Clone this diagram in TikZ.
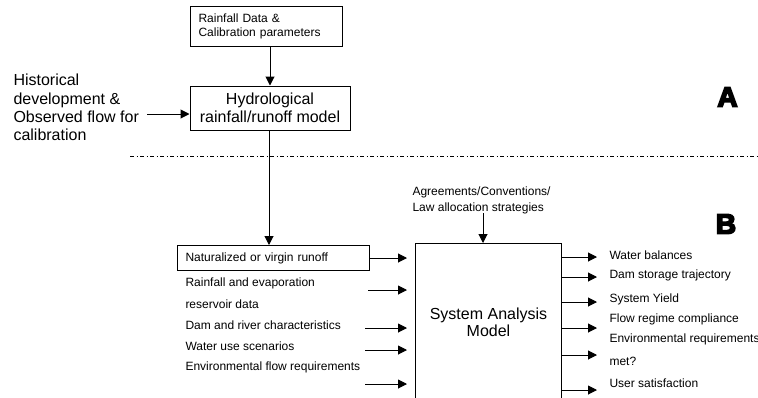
\documentclass[tikz,border=0pt]{standalone}
\usepackage{fontspec}
\setmainfont{Liberation Sans}
\newfontfamily\heavyfont{Liberation Sans}[BoldFeatures={FakeBold=6}]
\usepackage{tikz}
\usetikzlibrary{arrows.meta}

\begin{document}
\begin{tikzpicture}[x=1pt,y=-1pt,line width=1pt,
  >={Triangle[length=9pt,width=9pt]},
  smalltxt/.style={font=\fontsize{12}{14}\selectfont},
  bigtxt/.style={font=\fontsize{16}{17.5}\selectfont},
  box/.style={draw,inner sep=0pt},
  item/.style={smalltxt,anchor=west,inner sep=0pt},
  bigletter/.style={font=\heavyfont\bfseries\fontsize{28}{28}\selectfont,inner sep=0pt}]
  \useasboundingbox (0,0) rectangle (758,397);
  \clip (0,0) rectangle (758,397);

  \node[box,smalltxt,anchor=north west,text width=136pt,inner xsep=8pt,minimum height=40pt,align=left] (rain) at (190,6) {Rainfall Data \&\\Calibration parameters};
  \node[box,bigtxt,minimum width=160pt,minimum height=44pt,align=center] (hydro) at (270,108) {Hydrological\\rainfall/runoff model};
  \node[bigtxt,anchor=west,inner sep=0pt,align=left,font=\fontsize{16}{18.3}\selectfont] (hist) at (13,107.5) {Historical\\development \&\\Observed flow for\\calibration};
  \coordinate (histout) at (147,114);
  \draw[->] (hydro.north |- rain.south) -- (hydro.north);
  \draw[->] (histout) -- (histout -| hydro.west);

  \coordinate (sepL) at (130,156);
  \coordinate (sepR) at (758,156);
  \draw[line width=0.8pt,dash pattern=on 4pt off 2.5pt on 1pt off 2.5pt] (sepL) -- (sepR);
  \node[bigletter] (secA) at (727.5,97) {A};
  \node[bigletter] (secB) at (726,224) {B};

  \node[box,smalltxt,anchor=north west,text width=176pt,inner xsep=8pt,minimum height=25pt,align=left] (nat) at (177,245) {Naturalized or virgin runoff};
  \draw[->] (hydro.south -| 269,0) -- (nat.north -| 269,0);

  \node[box,bigtxt,anchor=north west,minimum width=146pt,minimum height=158pt,align=center] (sys) at (415,243) {System Analysis\\Model};

  \node[smalltxt,anchor=west,inner sep=0pt,align=left,font=\fontsize{12}{16}\selectfont] (agree) at (412,200) {Agreements/Conventions/\\Law allocation strategies};
  \coordinate (agrout) at (483,213);
  \draw[->] (agrout) -- (agrout |- sys.north);

  \node[item] (in1) at (185,283) {Rainfall and evaporation};
  \node[item] (in1b) at (185,304) {reservoir data};
  \node[item] (in2) at (185,325) {Dam and river characteristics};
  \node[item] (in3) at (185,346) {Water use scenarios};
  \node[item] (in4) at (185,367) {Environmental flow requirements};
  \coordinate (a1) at (368,290);
  \coordinate (a2) at (365,328);
  \coordinate (a3) at (365,350);
  \coordinate (a4) at (365,384);
  \draw[->,shorten >=8pt] (nat.east) -- (nat.east -| sys.west);
  \foreach \p in {a1,a2,a3,a4}
    \draw[->,shorten >=8pt] (\p) -- (\p -| sys.west);

  \node[item] (out1) at (609,255.5) {Water balances};
  \node[item] (out2) at (609,275) {Dam storage trajectory};
  \node[item] (out3) at (609,299) {System Yield};
  \node[item] (out4) at (609,319.5) {Flow regime compliance};
  \node[item] (out5) at (609,339.5) {Environmental requirements};
  \node[item] (out5b) at (609,361) {met?};
  \node[item] (out6) at (609,383.5) {User satisfaction};
  \coordinate (b1) at (597,257);
  \coordinate (b2) at (597,277);
  \coordinate (b3) at (597,302);
  \coordinate (b4) at (597,328);
  \coordinate (b5) at (597,355);
  \coordinate (b6) at (597,390);
  \foreach \p in {b1,b2,b3,b4,b5,b6}
    \draw[->] (\p -| sys.east) -- (\p);
\end{tikzpicture}
\end{document}
